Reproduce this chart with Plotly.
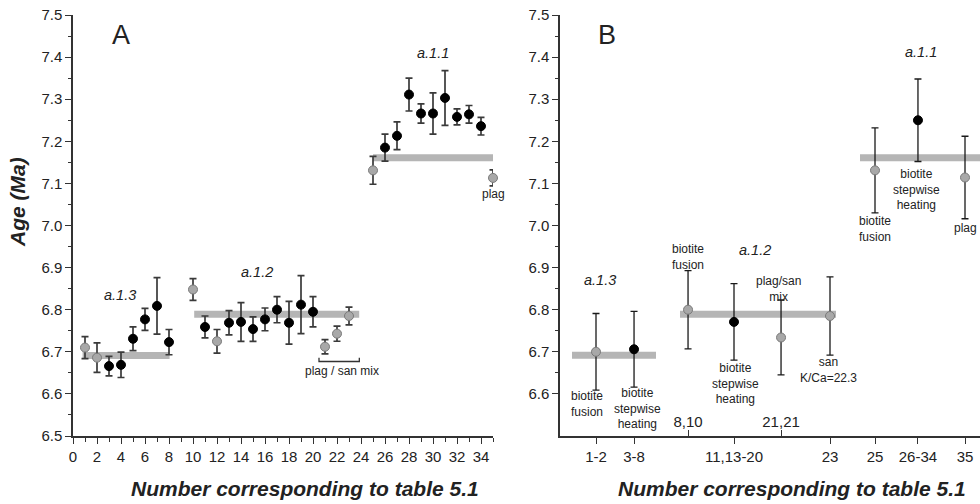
import plotly.graph_objects as go

FONT = "Liberation Sans, Arial, Helvetica, sans-serif"
INK = "#222222"
GRAY_FILL = "#a8a8a8"
GRAY_EDGE = "#7a7a7a"
BAR_GRAY = "#b5b5b5"

# ---------------- Panel A: individual analyses ----------------
a_num = [1, 2, 3, 4, 5, 6, 7, 8, 10, 11, 12, 13, 14, 15, 16, 17, 18, 19, 20,
         21, 22, 23, 25, 26, 27, 28, 29, 30, 31, 32, 33, 34, 35]
a_age = [6.710, 6.686, 6.666, 6.669, 6.731, 6.777, 6.809, 6.723, 6.848, 6.759,
         6.725, 6.769, 6.771, 6.754, 6.777, 6.800, 6.769, 6.812, 6.795, 6.712,
         6.743, 6.785, 7.131, 7.185, 7.213, 7.311, 7.266, 7.266, 7.303, 7.258,
         7.264, 7.236, 7.113]
a_err = [0.026, 0.035, 0.023, 0.030, 0.028, 0.026, 0.067, 0.030, 0.026, 0.026,
         0.028, 0.029, 0.046, 0.029, 0.027, 0.031, 0.051, 0.069, 0.036, 0.017,
         0.018, 0.021, 0.033, 0.032, 0.033, 0.039, 0.023, 0.049, 0.065, 0.019,
         0.021, 0.021, 0.019]
a_gray = [1, 2, 10, 12, 21, 22, 23, 25, 35]

# weighted-mean bands: (start, end, age)
a_means = [(0.8, 8.05, 6.691), (10.1, 23.85, 6.789), (25.0, 35.0, 7.161)]

# ---------------- Panel B: pooled results ----------------
b_labels = ["1-2", "3-8", "8,10", "11,13-20", "21,21", "23", "25", "26-34", "35"]
b_pos = [3.0, 6.17, 10.67, 14.5, 18.42, 22.5, 26.25, 29.83, 33.75]
b_age = [6.700, 6.706, 6.800, 6.771, 6.734, 6.785, 7.131, 7.250, 7.114]
b_err = [0.091, 0.090, 0.093, 0.091, 0.089, 0.093, 0.101, 0.098, 0.098]
b_is_gray = [True, False, True, False, True, True, True, False, True]
b_inner_ticks = ["8,10", "21,21"]
b_means = [(1.0, 8.0, 6.692), (10.0, 23.0, 6.789), (25.0, 36.0, 7.161)]

fig = go.Figure()

def add_bands(means, xa, ya):
    for x0, x1, m in means:
        fig.add_trace(go.Scatter(x=[x0, x1], y=[m, m], mode="lines",
                                 line=dict(color=BAR_GRAY, width=7),
                                 xaxis=xa, yaxis=ya, hoverinfo="skip",
                                 showlegend=False))

def add_points(xs, ys, es, gray, xa, ya, size, capw, ecolor, ethick):
    fill = [GRAY_FILL if g else "#000000" for g in gray]
    edge = [GRAY_EDGE if g else "#000000" for g in gray]
    fig.add_trace(go.Scatter(
        x=xs, y=ys, mode="markers", xaxis=xa, yaxis=ya, showlegend=False,
        cliponaxis=False,
        marker=dict(size=size, color=fill, line=dict(color=edge, width=1)),
        error_y=dict(type="data", array=es, visible=True, color=ecolor,
                     thickness=ethick, width=capw)))

add_bands(a_means, "x", "y")
add_points(a_num, a_age, a_err, [n in a_gray for n in a_num], "x", "y",
           9, 3.5, "#3a3a3a", 1.7)

add_bands(b_means, "x2", "y2")
add_points(b_pos, b_age, b_err, b_is_gray, "x2", "y2", 9, 3.5, "#1a1a1a", 1.3)

# invisible trace to carry the inner tick axis of panel B
fig.add_trace(go.Scatter(x=[b_pos[2], b_pos[4]], y=[6.5, 6.5], mode="markers",
                         marker=dict(opacity=0), xaxis="x3", yaxis="y2",
                         showlegend=False, hoverinfo="skip"))

tickfont = dict(family=FONT, size=15, color=INK)
yax = dict(range=[6.5, 7.5], dtick=0.1, tickformat=".1f", showline=True,
           linecolor="#333333", linewidth=1.5, ticks="outside", ticklen=6,
           tickcolor="#333333", tickwidth=1.2, showgrid=False, zeroline=False,
           tickfont=tickfont,
           minor=dict(ticks="outside", ticklen=3, dtick=0.05, tickcolor="#333333"))

PW = 907.0
PH = 421.0
fig.update_layout(
    width=980, height=504,
    margin=dict(l=73, r=0, t=15, b=68),
    paper_bgcolor="white", plot_bgcolor="white",
    font=dict(family=FONT, color=INK),
    xaxis=dict(domain=[0, 420 / PW], range=[0, 35], dtick=2, tick0=0,
               showline=True, linecolor="#333333", linewidth=1.5,
               ticks="outside", ticklen=6, tickcolor="#333333", tickwidth=1.2,
               showgrid=False, zeroline=False, tickfont=tickfont, anchor="y",
               minor=dict(ticks="outside", ticklen=4, dtick=1, tickcolor="#333333")),
    yaxis=dict(anchor="x", **yax),
    xaxis2=dict(domain=[(560 - 73) / PW, 1], range=[0, 35],
                tickmode="array", tickvals=[p for p, l in zip(b_pos, b_labels) if l not in b_inner_ticks],
                ticktext=[l for l in b_labels if l not in b_inner_ticks],
                showline=True, linecolor="#333333", linewidth=1.5,
                ticks="outside", ticklen=6, tickcolor="#333333", tickwidth=1.2,
                showgrid=False, zeroline=False, tickfont=tickfont, anchor="y2"),
    xaxis3=dict(overlaying="x2", range=[0, 35], anchor="y2",
                tickmode="array",
                tickvals=[p for p, l in zip(b_pos, b_labels) if l in b_inner_ticks],
                ticktext=b_inner_ticks,
                ticks="inside", ticklen=6, tickcolor="#333333", tickwidth=1.2,
                ticklabelposition="inside", showline=False, showgrid=False,
                zeroline=False, tickfont=tickfont),
    yaxis2=dict(anchor="x2", **yax),
)

ann = []

def txt(x, y, s, xr, yr, size=12, italic=False):
    ann.append(dict(x=x, y=y, xref=xr, yref=yr, text=s, showarrow=False,
                    xanchor="center", yanchor="middle",
                    font=dict(family=FONT, size=size, color=INK,
                              style="italic" if italic else "normal")))

# panel letters
txt(3.97, 7.452, "A", "x", "y", size=27)
txt(3.9, 7.452, "B", "x2", "y2", size=27)

# group names
for xa, ya, items in [("x", "y", [(3.9, 6.834, "a.1.3"), (15.3, 6.890, "a.1.2"), (30.0, 7.409, "a.1.1")]),
                      ("x2", "y2", [(3.33, 6.870, "a.1.3"), (16.25, 6.941, "a.1.2"), (30.1, 7.413, "a.1.1")])]:
    for x, y, s in items:
        txt(x, y, s, xa, ya, size=14.5, italic=True)

# panel A notes
txt(35.0, 7.074, "plag", "x", "y")
txt(22.4, 6.654, "plag / san mix", "x", "y")
fig.add_trace(go.Scatter(x=[20.5, 20.5, 23.86, 23.86], y=[6.686, 6.677, 6.677, 6.686],
                         mode="lines", line=dict(color="#333333", width=1.3),
                         xaxis="x", yaxis="y", showlegend=False, hoverinfo="skip"))

# panel B mineral notes
b_notes = [(2.28, 6.576, "biotite<br>fusion"),
           (6.44, 6.566, "biotite<br>stepwise<br>heating"),
           (10.7, 6.926, "biotite<br>fusion"),
           (14.6, 6.625, "biotite<br>stepwise<br>heating"),
           (18.2, 6.849, "plag/san<br>mix"),
           (22.4, 6.656, "san<br>K/Ca=22.3"),
           (26.25, 6.992, "biotite<br>fusion"),
           (29.7, 7.086, "biotite<br>stepwise<br>heating"),
           (33.75, 6.993, "plag")]
for x, y, s in b_notes:
    txt(x, y, s, "x2", "y2")

# axis titles
title_font = dict(family=FONT, size=21, color=INK, weight="bold", style="italic")
for x, y, s, ang in [(17, 202, "Age (Ma)", -90),
                     (305, 488, "Number corresponding to table 5.1", 0),
                     (792, 488, "Number corresponding to table 5.1", 0)]:
    ann.append(dict(x=(x - 73) / PW, y=(436 - y) / PH, xref="paper", yref="paper",
                    xanchor="center", yanchor="middle", text=s, textangle=ang,
                    showarrow=False, font=title_font))

fig.update_layout(annotations=ann)
fig.write_html("out.html")
